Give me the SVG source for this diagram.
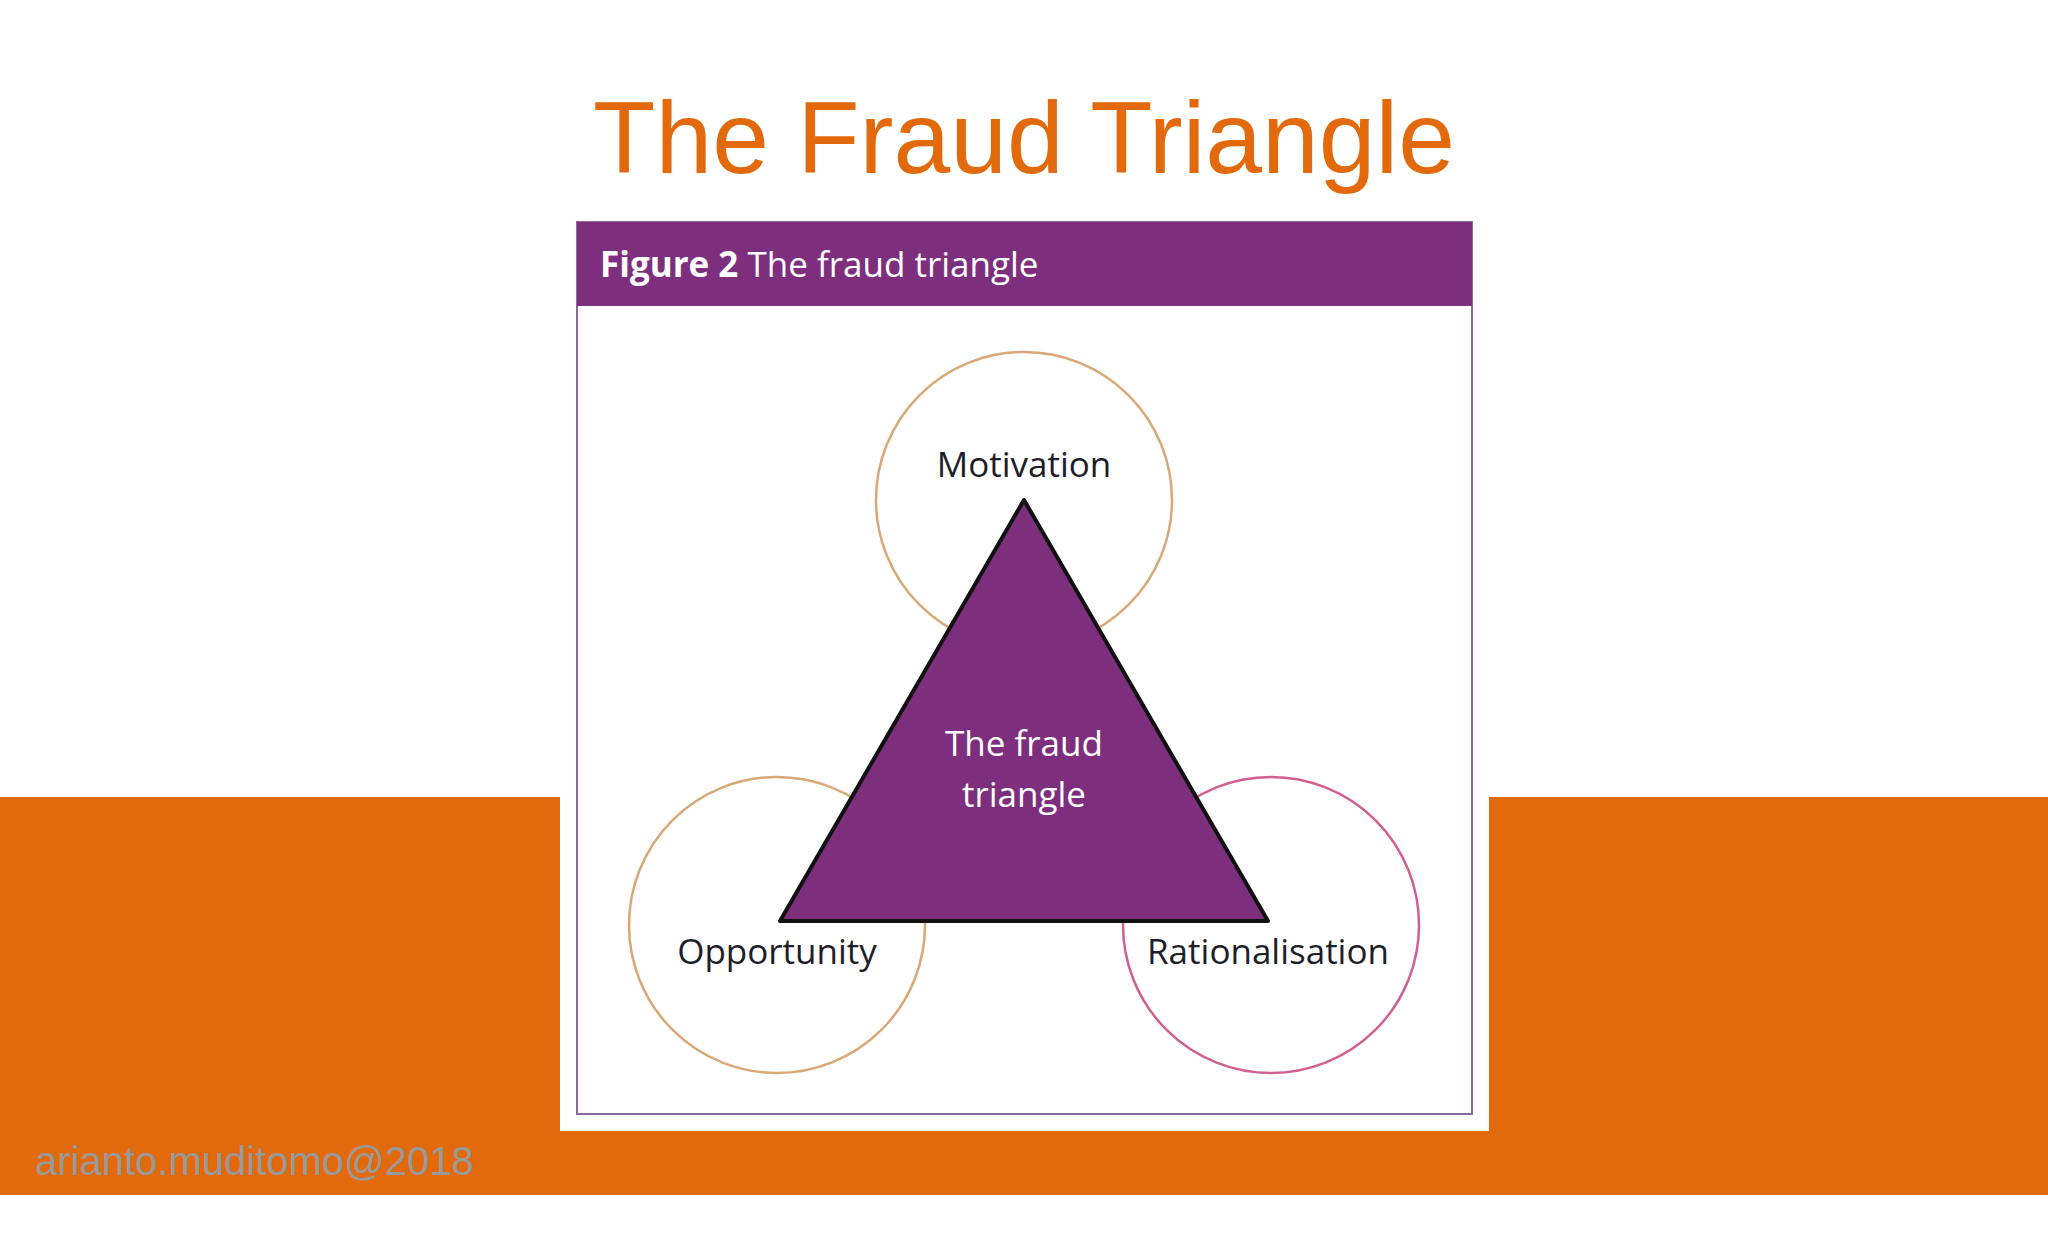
<svg xmlns="http://www.w3.org/2000/svg" width="2048" height="1243" viewBox="0 0 2048 1243">
<style>
.lbl{font-family:"Open Sans","Liberation Sans",sans-serif;font-size:35px;fill:#1e1e2a;text-anchor:middle}
.in{font-family:"Open Sans","Liberation Sans",sans-serif;font-size:35px;fill:#fff;text-anchor:middle}
</style>
<rect width="2048" height="1243" fill="#fff"/>
<rect x="0" y="797" width="2048" height="398" fill="#e26a0c"/>
<rect x="560" y="222" width="929" height="909" fill="#fff"/>
<text x="1024" y="173" font-family="Liberation Sans,Arial,sans-serif" font-size="102" fill="#e26a0c" text-anchor="middle">The Fraud Triangle</text>
<rect x="577" y="222" width="895" height="892" fill="#fff" stroke="#8a6a9a" stroke-width="2"/>
<rect x="577" y="222" width="895" height="84" fill="#7d2f7d"/>
<text x="600" y="277" font-family="Open Sans,Liberation Sans,sans-serif" font-size="35" fill="#fff"><tspan font-weight="bold">Figure 2</tspan> The fraud triangle</text>
<g id="motivation"><circle cx="1024" cy="500" r="148" fill="none" stroke="#d9a877" stroke-width="2.5"/><text class="lbl" x="1024" y="477">Motivation</text></g>
<g id="opportunity"><circle cx="777" cy="925" r="148" fill="none" stroke="#d9a877" stroke-width="2.5"/><text class="lbl" x="777" y="964">Opportunity</text></g>
<g id="rationalisation"><circle cx="1271" cy="925" r="148" fill="none" stroke="#d0608f" stroke-width="2.5"/><text class="lbl" x="1268" y="964">Rationalisation</text></g>
<g id="triangle"><polygon points="1024,500 780,921 1268,921" fill="#7d2f7d" stroke="#111" stroke-width="4" stroke-linejoin="round"/>
<text class="in" x="1024" y="756">The fraud</text><text class="in" x="1024" y="807">triangle</text></g>
<g id="connectors"/>
<text x="35" y="1175" font-family="Liberation Sans,Arial,sans-serif" font-size="40" fill="#9a9a9a">arianto.muditomo@2018</text>
</svg>
